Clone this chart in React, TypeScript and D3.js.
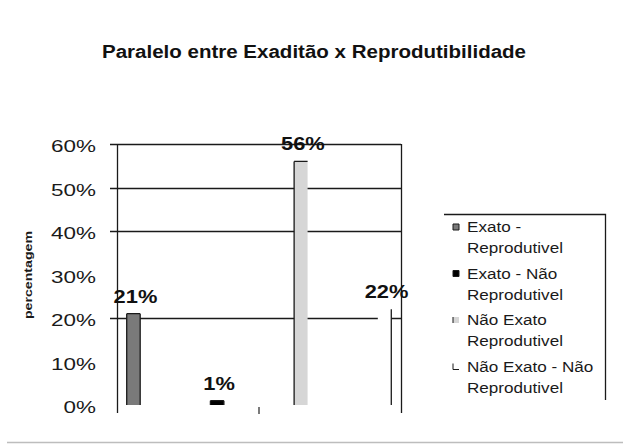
import React, { useEffect, useRef } from 'react';
import * as d3 from 'd3';

// chart data
const categories = [
  'Exato - Reprodutivel',
  'Exato - Não Reprodutivel',
  'Não Exato - Reprodutivel',
  'Não Exato - Não Reprodutivel',
];
const legendLines = [
  ['Exato -', 'Reprodutivel'],
  ['Exato - Não', 'Reprodutivel'],
  ['Não Exato', 'Reprodutivel'],
  ['Não Exato - Não', 'Reprodutivel'],
];
const values = [0.21, 0.01, 0.56, 0.22];
const yTicks = [0, 0.1, 0.2, 0.3, 0.4, 0.5, 0.6];
const gridTicks = [0.2, 0.4, 0.5, 0.6];

const fills = ['#7a7a7a', '#000000', '#d6d6d6', '#ffffff'];
// which edges of each bar get a dark outline (l, t, r)
const barEdges = ['ltr', 'ltr', 'lt', 'r'];
const markerEdges = ['ltrb', 'ltrb', 'l', 'lb'];

const FONT = '"Liberation Sans", Arial, sans-serif';

function edgePath(x0: number, y0: number, x1: number, y1: number, edges: string) {
  const p = d3.path();
  if (edges.includes('l')) { p.moveTo(x0, y1); p.lineTo(x0, y0); }
  if (edges.includes('t')) { p.moveTo(x0, y0); p.lineTo(x1, y0); }
  if (edges.includes('r')) { p.moveTo(x1, y0); p.lineTo(x1, y1); }
  if (edges.includes('b')) { p.moveTo(x0, y1); p.lineTo(x1, y1); }
  return p.toString();
}

export default function App() {
  const ref = useRef<SVGSVGElement>(null);

  useEffect(() => {
    const width = 623;
    const height = 445;
    const left = 117;
    const right = 401;
    const top = 144;
    const zeroY = 405;
    const axisBottom = 413;

    const svg = d3.select(ref.current);
    svg.selectAll('*').remove();

    svg.append('rect').attr('width', width).attr('height', height).attr('fill', '#fff');

    svg
      .append('text')
      .attr('x', 314)
      .attr('y', 58)
      .attr('text-anchor', 'middle')
      .attr('font-family', FONT)
      .attr('font-weight', 'bold')
      .attr('font-size', 18)
      .attr('textLength', 424)
      .attr('lengthAdjust', 'spacingAndGlyphs')
      .attr('fill', '#111')
      .text('Paralelo entre Exaditão x Reprodutibilidade');

    const xScale = d3
      .scaleBand<string>()
      .domain(categories)
      .range([left, right])
      .paddingInner(0.839)
      .paddingOuter(0.116);
    const yScale = d3.scaleLinear().domain([0, 0.6]).range([zeroY, top]);

    // gridlines with left tick marks
    svg
      .append('g')
      .selectAll('line')
      .data(gridTicks)
      .join('line')
      .attr('x1', left - 7)
      .attr('x2', right)
      .attr('y1', d => Math.round(yScale(d)) + 0.5)
      .attr('y2', d => Math.round(yScale(d)) + 0.5)
      .attr('stroke', '#1a1a1a')
      .attr('stroke-width', 1.3);

    // axis frame
    svg
      .append('path')
      .attr('d', `M${left + 0.5},${top}V${axisBottom}M${right + 0.5},${top}V${axisBottom}`)
      .attr('stroke', '#1a1a1a')
      .attr('stroke-width', 1.3)
      .attr('fill', 'none');

    // one category tick between 2nd and 3rd group
    const midX = (xScale(categories[1])! + xScale.bandwidth() + xScale(categories[2])!) / 2;
    svg
      .append('line')
      .attr('x1', midX)
      .attr('x2', midX)
      .attr('y1', zeroY + 2)
      .attr('y2', axisBottom + 1)
      .attr('stroke', '#222')
      .attr('stroke-width', 1.2);

    // y tick labels
    svg
      .append('g')
      .selectAll('text')
      .data(yTicks)
      .join('text')
      .attr('transform', d => `translate(96,${yScale(d) + 8}) scale(1.32,1)`)
      .attr('text-anchor', 'end')
      .attr('font-family', FONT)
      .attr('font-size', 17)
      .attr('fill', '#1a1a1a')
      .text(d => d3.format('.0%')(d));

    // y axis title
    svg
      .append('text')
      .attr('transform', 'translate(32,275) rotate(-90) scale(1.35,1)')
      .attr('text-anchor', 'middle')
      .attr('font-family', FONT)
      .attr('font-weight', 'bold')
      .attr('font-size', 10.5)
      .attr('fill', '#1a1a1a')
      .text('percentagem');

    // bars
    const bars = svg.append('g');
    categories.forEach((c, i) => {
      const x0 = xScale(c)!;
      const x1 = x0 + xScale.bandwidth();
      const y0 = yScale(values[i]);
      bars
        .append('rect')
        .attr('x', x0)
        .attr('y', y0)
        .attr('width', x1 - x0)
        .attr('height', zeroY - y0)
        .attr('fill', fills[i]);
      bars
        .append('path')
        .attr('d', edgePath(x0, y0, x1, zeroY, barEdges[i]))
        .attr('stroke', '#1a1a1a')
        .attr('stroke-width', 1.3)
        .attr('fill', 'none');
    });

    // value labels
    svg
      .append('g')
      .selectAll('text')
      .data(values)
      .join('text')
      .attr('transform', (d, i) =>
        `translate(${xScale(categories[i])! + xScale.bandwidth() / 2 + 2},${yScale(d) - 11}) scale(1.15,1)`)
      .attr('text-anchor', 'middle')
      .attr('font-family', FONT)
      .attr('font-weight', 'bold')
      .attr('font-size', 19)
      .attr('fill', '#111')
      .text(d => d3.format('.0%')(d));

    // legend box (top and right edges)
    svg
      .append('path')
      .attr('d', 'M444,214.5H605.5V400')
      .attr('stroke', '#1a1a1a')
      .attr('stroke-width', 1.3)
      .attr('fill', 'none');

    const legend = svg.append('g');
    legendLines.forEach((lines, i) => {
      const base = 232 + i * 46.5;
      legend
        .append('rect')
        .attr('x', 453)
        .attr('y', base - 8)
        .attr('width', 6)
        .attr('height', 6)
        .attr('fill', fills[i]);
      legend
        .append('path')
        .attr('d', edgePath(453, base - 8, 459, base - 2, markerEdges[i]))
        .attr('stroke', '#1a1a1a')
        .attr('stroke-width', 1)
        .attr('fill', 'none');
      lines.forEach((ln, j) => {
        legend
          .append('text')
          .attr('transform', `translate(467,${base + j * 21}) scale(1.14,1)`)
          .attr('font-family', FONT)
          .attr('font-size', 15)
          .attr('fill', '#1a1a1a')
          .text(ln);
      });
    });

    // bottom border
    svg
      .append('line')
      .attr('x1', 7)
      .attr('x2', width)
      .attr('y1', 442.5)
      .attr('y2', 442.5)
      .attr('stroke', '#bdbdbd')
      .attr('stroke-width', 1.5);
  }, []);

  return (
    <svg
      ref={ref}
      width={623}
      height={445}
      style={{ position: 'absolute', left: 0, top: 0 }}
    />
  );
}
